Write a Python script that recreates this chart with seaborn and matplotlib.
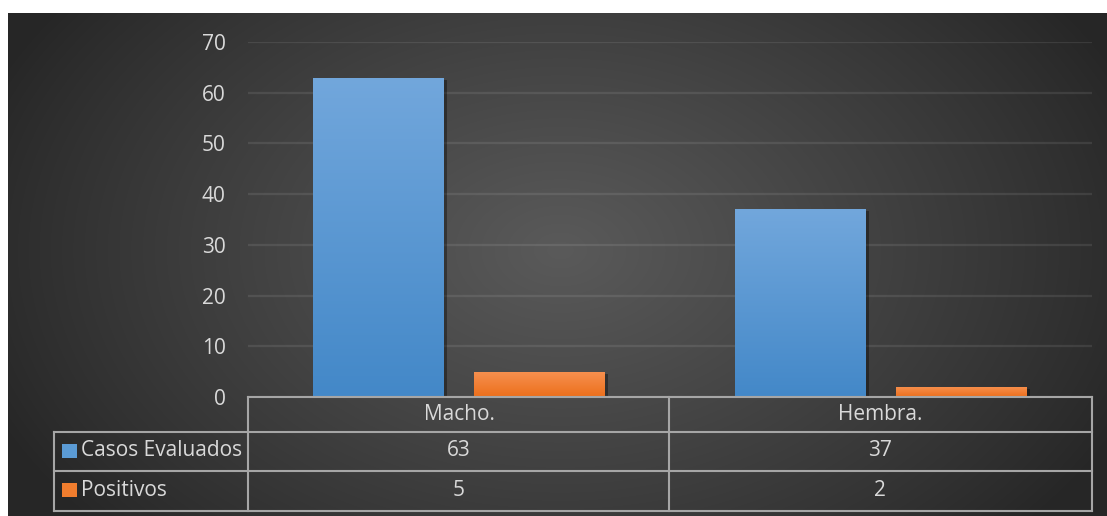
import numpy as np
import pandas as pd
import matplotlib
matplotlib.use("Agg")
import matplotlib.pyplot as plt
import matplotlib.patheffects as pe
from matplotlib.colors import LinearSegmentedColormap
import seaborn as sns

# ---- data ----
categories = ["Macho.", "Hembra."]
series_names = ["Casos Evaluados", "Positivos"]
casos_evaluados = [63, 37]
positivos = [5, 2]
y_ticks = [0, 10, 20, 30, 40, 50, 60, 70]

colors = {"Casos Evaluados": "#5b9bd5", "Positivos": "#f07d2e"}
grad = {"Casos Evaluados": ("#72a7dc", "#4388c8"),
        "Positivos": ("#f79150", "#ec6f1c")}

df = pd.DataFrame({
    "Categoria": categories * 2,
    "Serie": [series_names[0]] * 2 + [series_names[1]] * 2,
    "Valor": casos_evaluados + positivos,
})

sns.set_theme(style="dark")
plt.rcParams["font.family"] = ["Open Sans", "DejaVu Sans"]

W, H = 1107, 516
fig = plt.figure(figsize=(W / 100, H / 100), dpi=100)
fig.patch.set_facecolor("white")

# ---- background radial gradient ----
bx0, by0 = 8, 13
bg = fig.add_axes([bx0 / W, 0, 1 - bx0 / W, 1 - by0 / H])
bg.set_axis_off()
gx, gy = np.meshgrid(np.arange(bx0, W), np.arange(by0, H))
cx, cy, rx, ry = 560, 250, 620, 420
r = np.sqrt(((gx - cx) / rx) ** 2 + ((gy - cy) / ry) ** 2)
t = np.clip(1 - r, 0, 1)
dark, light = 0x26 / 255, 0x5a / 255
val = dark + (light - dark) * t ** 0.9
img = np.dstack([val, val, val])
bg.imshow(img, aspect="auto", extent=[0, 1, 0, 1], interpolation="bilinear")
bg.set_xlim(0, 1)
bg.set_ylim(0, 1)

# ---- main axes ----
px_l, px_r, py_t, py_b = 248, 1092, 42, 397
ax = fig.add_axes([px_l / W, (H - py_b) / H, (px_r - px_l) / W, (py_b - py_t) / H])
ax.set_facecolor("none")

sns.barplot(data=df, x="Categoria", y="Valor", hue="Serie", order=categories,
            hue_order=series_names, palette=colors, width=0.764, gap=0.19,
            saturation=1, legend=False, ax=ax, zorder=3,
            edgecolor="none", linewidth=0)

ax.set_xlim(-0.5, 1.5)
ax.set_ylim(0, 70)
ax.set_yticks(y_ticks)
ax.set_yticklabels([str(v) for v in y_ticks])
tc, fs = "#d9d9d9", 15
ax.tick_params(axis="y", length=0, pad=16, labelsize=fs, labelcolor=tc)
ax.set_xticks([])
ax.set_xlabel("")
ax.set_ylabel("")
for s in ax.spines.values():
    s.set_visible(False)
ax.grid(axis="y", color="#ffffff", alpha=0.09, linewidth=1.6, zorder=0)
ax.grid(axis="x", visible=False)
ax.set_axisbelow(True)

# gradient fill + shadow on bars
patches = list(ax.patches)
for i, p in enumerate(patches):
    sname = series_names[i // len(categories)]
    top, bot = grad[sname]
    p.set_path_effects([pe.SimplePatchShadow(offset=(2.5, -1.5), alpha=0.35,
                                             shadow_rgbFace="black"), pe.Normal()])
    x0, y0 = p.get_x(), p.get_y()
    w, h = p.get_width(), p.get_height()
    cmap = LinearSegmentedColormap.from_list("g", [bot, top])
    gimg = ax.imshow(np.linspace(0, 1, 256).reshape(-1, 1), cmap=cmap,
                     extent=[x0, x0 + w, y0, y0 + h], origin="lower",
                     aspect="auto", zorder=4, interpolation="bilinear")
    gimg.set_clip_path(p)
ax.set_xlim(-0.5, 1.5)
ax.set_ylim(0, 70)

# ---- data table ----
def ax_xy(px, py):
    return (px - px_l) / (px_r - px_l), (py_b - py) / (py_b - py_t)

lc, lw = "#a6a6a6", 1.5
def hline(py, x1, x2):
    (a, y), (b, _) = ax_xy(x1, py), ax_xy(x2, py)
    ax.plot([a, b], [y, y], transform=ax.transAxes, color=lc, lw=lw,
            clip_on=False, zorder=6, solid_capstyle="projecting")
def vline(px, y1, y2):
    (x, a), (_, b) = ax_xy(px, y1), ax_xy(px, y2)
    ax.plot([x, x], [a, b], transform=ax.transAxes, color=lc, lw=lw,
            clip_on=False, zorder=6, solid_capstyle="projecting")

hline(397, 248, 1092)
for yy in (432, 471, 511):
    hline(yy, 54, 1092)
vline(54, 432, 511)
for xx in (248, 669, 1092):
    vline(xx, 397, 511)

col_centers = [459, 880]
row_centers = {"header": 414, series_names[0]: 451, series_names[1]: 490}
for j, cat in enumerate(categories):
    x, y = ax_xy(col_centers[j], row_centers["header"])
    ax.text(x, y, cat, transform=ax.transAxes, ha="center", va="center",
            color=tc, fontsize=fs, clip_on=False)
for sname, vals in zip(series_names, [casos_evaluados, positivos]):
    for j, v in enumerate(vals):
        x, y = ax_xy(col_centers[j], row_centers[sname])
        ax.text(x, y, str(v), transform=ax.transAxes, ha="center", va="center",
                color=tc, fontsize=fs, clip_on=False)
    # legend key
    kx, ky = ax_xy(62, row_centers[sname] + 7)
    kw = 15 / (px_r - px_l)
    kh = 14 / (py_b - py_t)
    ax.add_patch(plt.Rectangle((kx, ky), kw, kh, transform=ax.transAxes,
                               facecolor=colors[sname], edgecolor="none",
                               clip_on=False, zorder=6))
    x, y = ax_xy(81, row_centers[sname])
    ax.text(x, y, sname, transform=ax.transAxes, ha="left", va="center",
            color=tc, fontsize=fs, clip_on=False)

fig.savefig("out.png", dpi=100)
